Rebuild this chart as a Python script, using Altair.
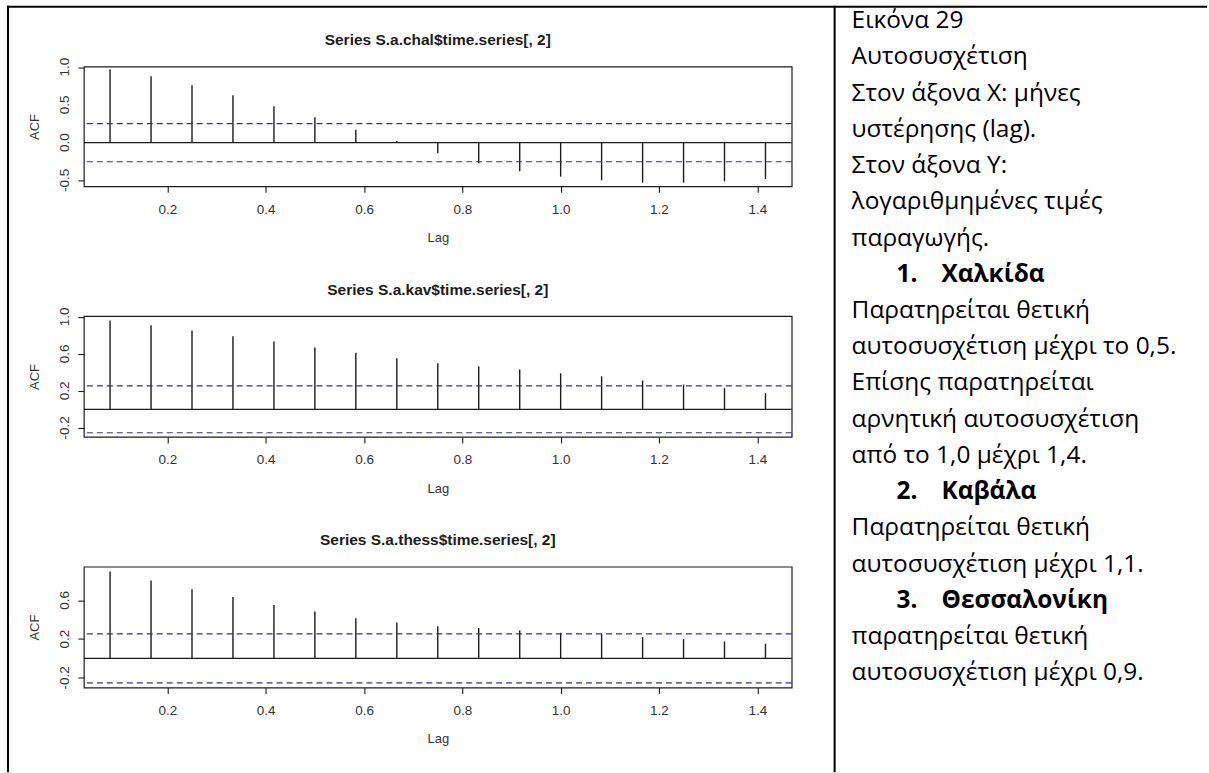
import altair as alt
import pandas as pd

# ---------------- data ----------------
lags = [0.0833, 0.1667, 0.25, 0.3333, 0.4167, 0.5, 0.5833, 0.6667, 0.75,
        0.8333, 0.9167, 1.0, 1.0833, 1.1667, 1.25, 1.3333, 1.4167]
acf_chalkida = [0.972, 0.880, 0.761, 0.629, 0.483, 0.337, 0.172, 0.022, -0.141,
                -0.273, -0.379, -0.451, -0.499, -0.531, -0.531, -0.512, -0.481]
acf_kavala = [0.960, 0.910, 0.853, 0.791, 0.734, 0.670, 0.613, 0.552, 0.498,
              0.462, 0.430, 0.390, 0.358, 0.312, 0.269, 0.229, 0.175]
acf_thessaloniki = [0.897, 0.805, 0.713, 0.634, 0.552, 0.484, 0.415, 0.371, 0.333,
                    0.313, 0.289, 0.265, 0.254, 0.220, 0.200, 0.176, 0.152]
conf_limits = [0.253, 0.253, 0.253]
panel_titles = ["Series S.a.chal$time.series[, 2]",
                "Series S.a.kav$time.series[, 2]",
                "Series S.a.thess$time.series[, 2]"]
x_tick_values = [0.2, 0.4, 0.6, 0.8, 1.0, 1.2, 1.4]
y_tick_values = [[-0.5, 0.0, 0.5, 1.0],
                 [-0.2, 0.0, 0.2, 0.4, 0.6, 0.8, 1.0],
                 [-0.2, 0.0, 0.2, 0.4, 0.6, 0.8]]
y_labelled = [[-0.5, 0.0, 0.5, 1.0],
              [-0.2, 0.2, 0.6, 1.0],
              [-0.2, 0.2, 0.6]]
x_domain = [0.03, 1.47]
y_domains = [[-0.579, 1.009], [-0.298, 1.008], [-0.300, 0.947]]

caption_text = ["Εικόνα 29", "Αυτοσυσχέτιση", "Στον άξονα X: μήνες", "υστέρησης (lag).",
                "Στον άξονα Y:", "λογαριθμημένες τιμές", "παραγωγής.", "",
                "Παρατηρείται θετική", "αυτοσυσχέτιση μέχρι το 0,5.", "Επίσης παρατηρείται",
                "αρνητική αυτοσυσχέτιση", "από το 1,0 μέχρι 1,4.", "",
                "Παρατηρείται θετική", "αυτοσυσχέτιση μέχρι 1,1.", "",
                "παρατηρείται θετική", "αυτοσυσχέτιση μέχρι 0,9."]
city_numbers = ["1.", "2.", "3."]
city_names = ["Χαλκίδα", "Καβάλα", "Θεσσαλονίκη"]
city_rows = [7, 13, 16]

# ---------------- layout / style ----------------
PLOT_W = 709
PLOT_H = [120, 121, 121]
ORIGIN_X, ORIGIN_Y = 83, 65
FONT = "Liberation Sans"
TFONT = "Open Sans"
TSIZE = 24.5
INK = "#1c1c1c"
CI_COLOR = "#34347c"
BASE0 = 26.5
LINE_H = 36.3


def px(X):
    return X - ORIGIN_X


def py(Y):
    return Y - ORIGIN_Y


def panel(i, acf):
    df = pd.DataFrame({"lag": lags, "acf": acf})
    h = PLOT_H[i]
    x = alt.X("lag:Q", scale=alt.Scale(domain=x_domain, nice=False, zero=False),
              axis=alt.Axis(values=x_tick_values, format=".1f", title="Lag",
                            labelPadding=10, titleBaseline="alphabetic",
                            labelOverlap=False, labelFlush=False,
                            titleX=PLOT_W / 2, titleY=55.5, titleAlign="center"))
    y = alt.Y("acf:Q", scale=alt.Scale(domain=y_domains[i], nice=False, zero=False),
              axis=alt.Axis(values=y_tick_values[i], labels=False,
                            title="ACF", titleAngle=270, titleBaseline="alphabetic",
                            titleX=-45, titleY=h / 2, titleAlign="center"))
    spikes = alt.Chart(df).mark_rule(color=INK, strokeWidth=1.4).encode(
        x=x, y=y, y2=alt.datum(0))
    zero = alt.Chart(pd.DataFrame({"acf": [0.0]})).mark_rule(
        color=INK, strokeWidth=1.2).encode(y="acf:Q")
    ci = alt.Chart(pd.DataFrame({"acf": [conf_limits[i], -conf_limits[i]]})).mark_rule(
        color=CI_COLOR, strokeWidth=1.2, strokeDash=[6, 4]).encode(y="acf:Q")
    # y tick labels, rotated like R's las=0, placed through the y scale
    ylab = alt.Chart(pd.DataFrame({"acf": y_labelled[i]})).transform_calculate(
        lab="replace(format(datum.acf, '.1f'), '\u2212', '-')"
    ).mark_text(font=FONT, fontSize=13.5, color="#333", angle=270, align="center",
                baseline="alphabetic", clip=False).encode(
        x=alt.value(-15), y="acf:Q", text="lab:N")
    title = alt.Chart(pd.DataFrame({"t": [panel_titles[i]]})).mark_text(
        font=FONT, fontSize=15.5, fontWeight="bold", color=INK,
        align="center", baseline="alphabetic").encode(
        x=alt.value(PLOT_W / 2), y=alt.value(-21.5), text="t:N")
    return [spikes, zero, ci, ylab, title]


# ---------------- decoration: table borders and caption ----------------
one = pd.DataFrame({"k": [0]})
pin = alt.Chart(one).mark_rect(opacity=0, clip=False).encode(
    x=alt.value(px(0)), x2=alt.value(px(1209)), y=alt.value(py(0)), y2=alt.value(py(773)))
top_border = alt.Chart(one).mark_rule(color="black", strokeWidth=2, clip=False).encode(
    x=alt.value(px(6)), x2=alt.value(px(1208)), y=alt.value(py(5)))
left_border = alt.Chart(one).mark_rule(color="black", strokeWidth=2, clip=False).encode(
    x=alt.value(px(7)), y=alt.value(py(4)), y2=alt.value(py(772)))
divider = alt.Chart(one).mark_rule(color="black", strokeWidth=2, clip=False).encode(
    x=alt.value(px(835)), y=alt.value(py(4)), y2=alt.value(py(772)))


def text_line(txt, row, x_pos, bold=False):
    return alt.Chart(pd.DataFrame({"text": [txt]})).mark_text(
        align="left", baseline="alphabetic", font=TFONT, fontSize=TSIZE,
        fontWeight="bold" if bold else "normal", color="black", clip=False
    ).encode(x=alt.value(px(x_pos)), y=alt.value(py(BASE0 + row * LINE_H)), text="text:N")


caption_layers = [text_line(t, r, 852) for r, t in enumerate(caption_text) if t]
for r, num, name in zip(city_rows, city_numbers, city_names):
    caption_layers.append(text_line(num, r, 897, bold=True))
    caption_layers.append(text_line(name, r, 942, bold=True))

decor = [pin, top_border, left_border, divider] + caption_layers

p1 = alt.layer(*(panel(0, acf_chalkida) + decor)).properties(width=PLOT_W, height=PLOT_H[0])
p2 = alt.layer(*panel(1, acf_kavala)).properties(width=PLOT_W, height=PLOT_H[1])
p3 = alt.layer(*panel(2, acf_thessaloniki)).properties(width=PLOT_W, height=PLOT_H[2])

chart = alt.vconcat(p1, p2, p3, spacing=130, bounds="flush").properties(
    padding=0, background="white"
).configure_view(
    stroke=INK, strokeWidth=1.2
).configure_axis(
    grid=False, domain=False, tickColor=INK, tickSize=6, tickWidth=1.1,
    labelFont=FONT, labelFontSize=13.5, labelColor="#333",
    titleFont=FONT, titleFontSize=13, titleFontWeight="normal", titleColor="#333",
    labelFlush=False, labelOverlap=False
)

chart.save("out.html", embed_options={"renderer": "svg", "actions": False})
